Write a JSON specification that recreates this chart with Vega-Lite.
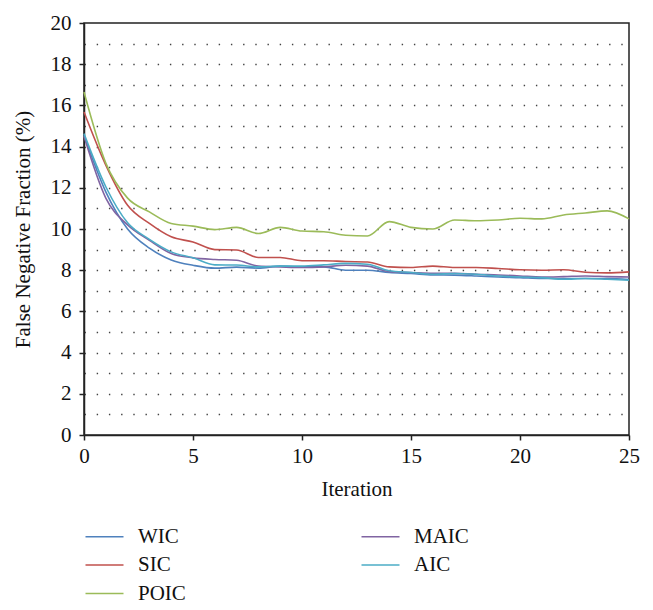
{
  "$schema": "https://vega.github.io/schema/vega-lite/v6.json",
  "autosize": "none",
  "width": 545,
  "height": 412,
  "padding": {"left": 84, "top": 23, "right": 24, "bottom": 175},
  "background": "white",
  "config": {
    "font": "Liberation Serif",
    "view": {"stroke": "#222", "strokeWidth": 1.5},
    "axis": {"labelFont": "Liberation Serif", "titleFont": "Liberation Serif", "labelFontSize": 21, "titleFontSize": 21, "titleFontWeight": "normal", "labelColor": "#111", "titleColor": "#111", "domainColor": "#222", "domainWidth": 1.5, "tickColor": "#222", "tickWidth": 1.5, "tickSize": 5},
    "legend": {"labelFont": "Liberation Serif", "labelFontSize": 21, "labelColor": "#111"}
  },
  "data": {
    "values": [
      {"it": 0, "WIC": 14.55, "SIC": 15.68, "POIC": 16.65, "MAIC": 14.5, "AIC": 14.63},
      {"it": 1, "WIC": 11.8, "SIC": 13.1, "POIC": 13.2, "MAIC": 11.5, "AIC": 12.05},
      {"it": 2, "WIC": 10.0, "SIC": 11.15, "POIC": 11.5, "MAIC": 10.2, "AIC": 10.3},
      {"it": 3, "WIC": 9.07, "SIC": 10.27, "POIC": 10.83, "MAIC": 9.45, "AIC": 9.5},
      {"it": 4, "WIC": 8.5, "SIC": 9.62, "POIC": 10.27, "MAIC": 8.81, "AIC": 8.89},
      {"it": 5, "WIC": 8.24, "SIC": 9.37, "POIC": 10.14, "MAIC": 8.6, "AIC": 8.6},
      {"it": 6, "WIC": 8.1, "SIC": 9.0, "POIC": 9.97, "MAIC": 8.52, "AIC": 8.26},
      {"it": 7, "WIC": 8.15, "SIC": 8.98, "POIC": 10.08, "MAIC": 8.48, "AIC": 8.25},
      {"it": 8, "WIC": 8.1, "SIC": 8.62, "POIC": 9.78, "MAIC": 8.2, "AIC": 8.16},
      {"it": 9, "WIC": 8.2, "SIC": 8.62, "POIC": 10.08, "MAIC": 8.16, "AIC": 8.2},
      {"it": 10, "WIC": 8.16, "SIC": 8.46, "POIC": 9.9, "MAIC": 8.13, "AIC": 8.2},
      {"it": 11, "WIC": 8.16, "SIC": 8.46, "POIC": 9.87, "MAIC": 8.16, "AIC": 8.26},
      {"it": 12, "WIC": 8.0, "SIC": 8.42, "POIC": 9.7, "MAIC": 8.24, "AIC": 8.33},
      {"it": 13, "WIC": 8.0, "SIC": 8.4, "POIC": 9.66, "MAIC": 8.2, "AIC": 8.29},
      {"it": 14, "WIC": 7.89, "SIC": 8.16, "POIC": 10.36, "MAIC": 7.93, "AIC": 7.97},
      {"it": 15, "WIC": 7.84, "SIC": 8.13, "POIC": 10.08, "MAIC": 7.89, "AIC": 7.89},
      {"it": 16, "WIC": 7.77, "SIC": 8.2, "POIC": 10.0, "MAIC": 7.85, "AIC": 7.8},
      {"it": 17, "WIC": 7.76, "SIC": 8.13, "POIC": 10.44, "MAIC": 7.85, "AIC": 7.84},
      {"it": 18, "WIC": 7.72, "SIC": 8.13, "POIC": 10.4, "MAIC": 7.8, "AIC": 7.8},
      {"it": 19, "WIC": 7.67, "SIC": 8.08, "POIC": 10.44, "MAIC": 7.77, "AIC": 7.72},
      {"it": 20, "WIC": 7.64, "SIC": 8.02, "POIC": 10.52, "MAIC": 7.72, "AIC": 7.67},
      {"it": 21, "WIC": 7.6, "SIC": 8.0, "POIC": 10.49, "MAIC": 7.67, "AIC": 7.64},
      {"it": 22, "WIC": 7.6, "SIC": 8.02, "POIC": 10.68, "MAIC": 7.69, "AIC": 7.56},
      {"it": 23, "WIC": 7.6, "SIC": 7.9, "POIC": 10.78, "MAIC": 7.72, "AIC": 7.6},
      {"it": 24, "WIC": 7.6, "SIC": 7.87, "POIC": 10.88, "MAIC": 7.69, "AIC": 7.56},
      {"it": 25, "WIC": 7.55, "SIC": 7.92, "POIC": 10.49, "MAIC": 7.67, "AIC": 7.51}
    ]
  },
  "transform": [{"fold": ["WIC", "SIC", "POIC", "MAIC", "AIC"], "as": ["series", "value"]}],
  "mark": {"type": "line", "interpolate": "monotone", "strokeWidth": 1.6},
  "encoding": {
    "x": {
      "field": "it", "type": "quantitative", "title": "Iteration",
      "scale": {"domain": [0, 25], "nice": false},
      "axis": {"values": [0, 5, 10, 15, 20, 25], "grid": false, "labelPadding": 5, "titlePadding": 12, "labelFlush": false}
    },
    "y": {
      "field": "value", "type": "quantitative", "title": "False Negative Fraction (%)",
      "scale": {"domain": [0, 20], "nice": false},
      "axis": {
        "values": [0, 0.5, 1, 1.5, 2, 2.5, 3, 3.5, 4, 4.5, 5, 5.5, 6, 6.5, 7, 7.5, 8, 8.5, 9, 9.5, 10, 10.5, 11, 11.5, 12, 12.5, 13, 13.5, 14, 14.5, 15, 15.5, 16, 16.5, 17, 17.5, 18, 18.5, 19, 19.5, 20],
        "format": "d",
        "labelExpr": "datum.value % 2 === 0 ? datum.label : ''",
        "tickOpacity": {"condition": {"test": "datum.value % 2 === 0", "value": 1}, "value": 0},
        "grid": true,
        "gridColor": "#222",
        "gridDash": [1.4, 10.8],
        "gridWidth": 1.3,
        "gridOpacity": {"condition": {"test": "datum.value === 0 || datum.value === 20", "value": 0}, "value": 0.85},
        "labelPadding": 8,
        "titlePadding": 17,
        "labelFlush": false
      }
    },
    "color": {
      "field": "series", "type": "nominal",
      "scale": {"domain": ["WIC", "SIC", "POIC", "MAIC", "AIC"], "range": ["#4f81bd", "#c0504d", "#9bbb59", "#8064a2", "#4bacc6"]},
      "legend": {
        "title": null, "orient": "none", "legendX": -4, "legendY": 503,
        "columns": 2, "columnPadding": 170, "rowPadding": 6.5,
        "symbolType": "M-1,0H6.6", "symbolSize": 100, "symbolStrokeWidth": 1.6,
        "labelOffset": 37
      }
    }
  }
}
